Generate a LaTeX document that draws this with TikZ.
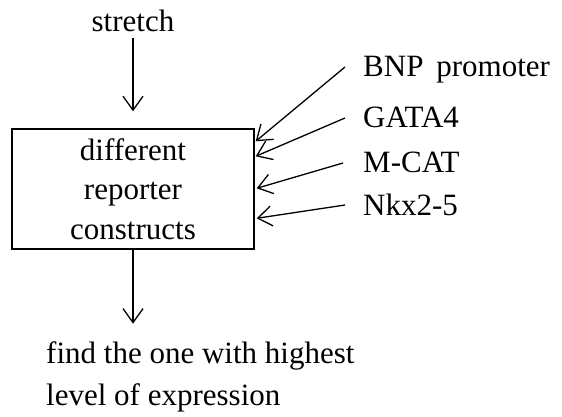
\documentclass[tikz,border=0pt]{standalone}
\usepackage{fontspec}
\setmainfont{Liberation Serif}
\usetikzlibrary{arrows.meta,calc}
\begin{document}
\begin{tikzpicture}[x=1pt,y=-1pt,
  txt/.style={inner sep=0pt,font=\fontsize{31}{39.5}\selectfont},
  arr/.style={line width=1.3pt,-{Straight Barb[length=14pt,width=20pt,line width=1.3pt]}},
  boxstyle/.style={draw,line width=1.4pt,minimum width=242pt,minimum height=120pt,inner sep=0pt,align=center,font=\fontsize{31}{39.5}\selectfont}]
\useasboundingbox (0,0) rectangle (562,417);
\node[txt,anchor=base] (stretch) at (133,32) {stretch};
\node[boxstyle] (box) at (133,189) {different\\reporter\\constructs};
\node[txt,anchor=base west] (bnp) at (363,77) {BNP\, promoter};
\node[txt,anchor=base west] (gata) at (363,128) {GATA4};
\node[txt,anchor=base west] (mcat) at (363,172) {M-CAT};
\node[txt,anchor=base west] (nkx) at (363,215) {Nkx2-5};
\node[txt,anchor=base west,align=left,font=\fontsize{31}{42}\selectfont] (find) at (46,405) {find the one with highest\\level of expression};
\coordinate (stretchtip) at ($(box.north)+(0,-17)$);
\coordinate (findtip) at ($(box.south)+(0,74)$);
\draw[arr] ($(stretch.base)+(0,6)$) -- (stretchtip);
\draw[arr] (box.south) -- (findtip);
\draw[arr] ($(bnp.base west)+(-18,-10)$) -- ($(box.north east)+(1,13)$);
\draw[arr] ($(gata.base west)+(-18,-10)$) -- ($(box.north east)+(1,28)$);
\draw[arr] ($(mcat.base west)+(-20,-9)$) -- ($(box.north east)+(2,60)$);
\draw[arr] ($(nkx.base west)+(-18,-10)$) -- ($(box.north east)+(2,90)$);
\end{tikzpicture}
\end{document}
